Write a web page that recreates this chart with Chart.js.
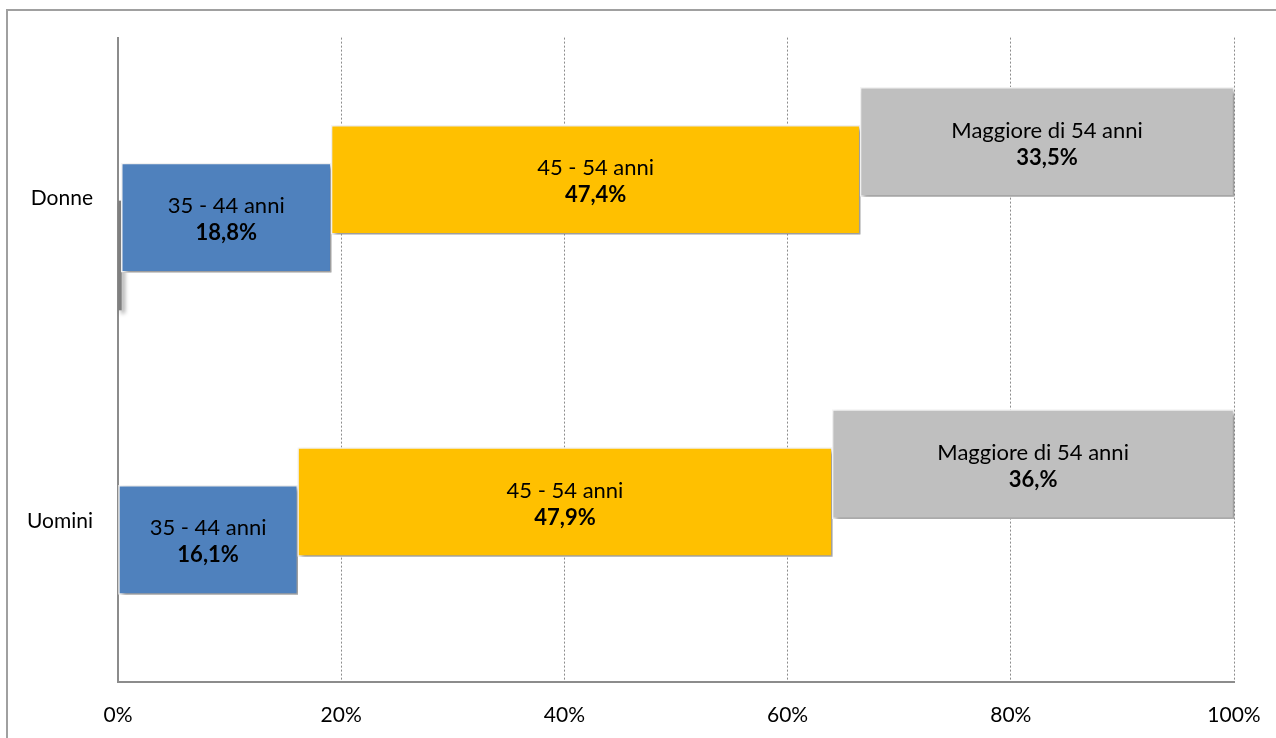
<!DOCTYPE html>
<html>
<head>
<meta charset="utf-8">
<script src="https://cdn.jsdelivr.net/npm/chart.js@4"></script>
<style>
  html, body { margin: 0; padding: 0; background: #fff; overflow: hidden; }
  #wrap { position: relative; width: 1276px; height: 738px; }
  #cornice { position: absolute; left: 6px; top: 9px; width: 1290px; height: 760px; border: 2px solid #a0a0a0; pointer-events: none; }
</style>
</head>
<body>
<div id="wrap">
  <canvas id="grafico" width="1276" height="738"></canvas>
  <div id="cornice"></div>
</div>
<script>
// Dati (percentuali per fascia d'età)
const categorie = ['Donne', 'Uomini'];
const nomiSerie = ['Altro', '35 - 44 anni', '45 - 54 anni', 'Maggiore di 54 anni'];
const altro = [0.3, 0];
const eta3544 = [18.8, 16.1];
const eta4554 = [47.4, 47.9];
const oltre54 = [33.5, 36.0];
const percentuali = [null, ['18,8%', '16,1%'], ['47,4%', '47,9%'], ['33,5%', '36,%']];
const tickX = [0, 20, 40, 60, 80, 100];

const colori = ['#7f7f7f', '#4f81bd', '#ffc000', '#bfbfbf'];
const posCategorie = [1.5, 0.5];   // Donne in alto, Uomini in basso
const passo = 38 / 323.5;          // scalino verticale tra le serie
const FONT = 'Lato';

const serie = [altro, eta3544, eta4554, oltre54];
const inizio = categorie.map(() => 0);
const datasets = serie.map((valori, i) => {
  const data = valori.map((v, c) => {
    const s = inizio[c];
    inizio[c] += v;
    return { y: posCategorie[c] - (1.5 - i) * passo, x: v ? [s, s + v] : null };
  });
  return {
    label: nomiSerie[i],
    data: data,
    backgroundColor: colori[i],
    borderColor: '#f4f4f4',
    borderWidth: i === 0 ? 0 : 1.5,
    borderSkipped: false,
    barThickness: 109,
    grouped: false,
    clip: false,
    order: serie.length - 1 - i
  };
});

// ombra sotto le barre
const ombra = {
  id: 'ombra',
  beforeDatasetsDraw(chart) {
    const ctx = chart.ctx;
    ctx.save();
    ctx.shadowColor = 'rgba(0,0,0,0.4)';
    ctx.shadowBlur = 4;
    ctx.shadowOffsetX = 3;
    ctx.shadowOffsetY = 3;
  },
  afterDatasetsDraw(chart) {
    chart.ctx.restore();
  }
};

// etichette dentro le barre
const etichette = {
  id: 'etichette',
  afterDatasetsDraw(chart) {
    const ctx = chart.ctx;
    ctx.save();
    ctx.fillStyle = '#000';
    ctx.textAlign = 'center';
    ctx.textBaseline = 'middle';
    chart.data.datasets.forEach((ds, i) => {
      if (!percentuali[i]) return;
      chart.getDatasetMeta(i).data.forEach((bar, c) => {
        if (!ds.data[c].x) return;
        const cx = (bar.x + bar.base) / 2;
        ctx.font = '22px ' + FONT;
        ctx.fillText(nomiSerie[i], cx, bar.y - 11.5);
        ctx.font = 'bold 22px ' + FONT;
        ctx.fillText(percentuali[i][c], cx, bar.y + 15.5);
      });
    });
    ctx.restore();
  }
};

Chart.defaults.font.family = FONT;
Chart.defaults.font.size = 21;
Chart.defaults.color = '#000';

new Chart(document.getElementById('grafico'), {
  type: 'bar',
  data: { datasets: datasets },
  options: {
    responsive: false,
    animation: false,
    indexAxis: 'y',
    layout: { padding: { top: 35, right: 42, left: 0, bottom: 0 } },
    plugins: { legend: { display: false }, tooltip: { enabled: false } },
    scales: {
      x: {
        type: 'linear',
        min: 0,
        max: 100,
        offset: false,
        afterBuildTicks: s => { s.ticks = tickX.map(v => ({ value: v })); },
        ticks: { callback: v => v + '%', padding: 21 },
        grid: { color: '#8c8c8c', lineWidth: 1, drawTicks: false },
        border: { color: '#8c8c8c', width: 2, dash: [2, 2] },
        afterFit: s => { s.height = 56; s.paddingLeft = 0; s.paddingRight = 0; }
      },
      y: {
        type: 'linear',
        min: 0,
        max: 2,
        offset: false,
        afterBuildTicks: s => { s.ticks = posCategorie.map(v => ({ value: v })); },
        ticks: { callback: v => categorie[posCategorie.indexOf(v)], padding: 25 },
        grid: { display: false, drawTicks: false },
        border: { color: '#8c8c8c', width: 2 },
        afterFit: s => { s.width = 118; }
      }
    }
  },
  plugins: [ombra, etichette]
});
</script>
</body>
</html>
